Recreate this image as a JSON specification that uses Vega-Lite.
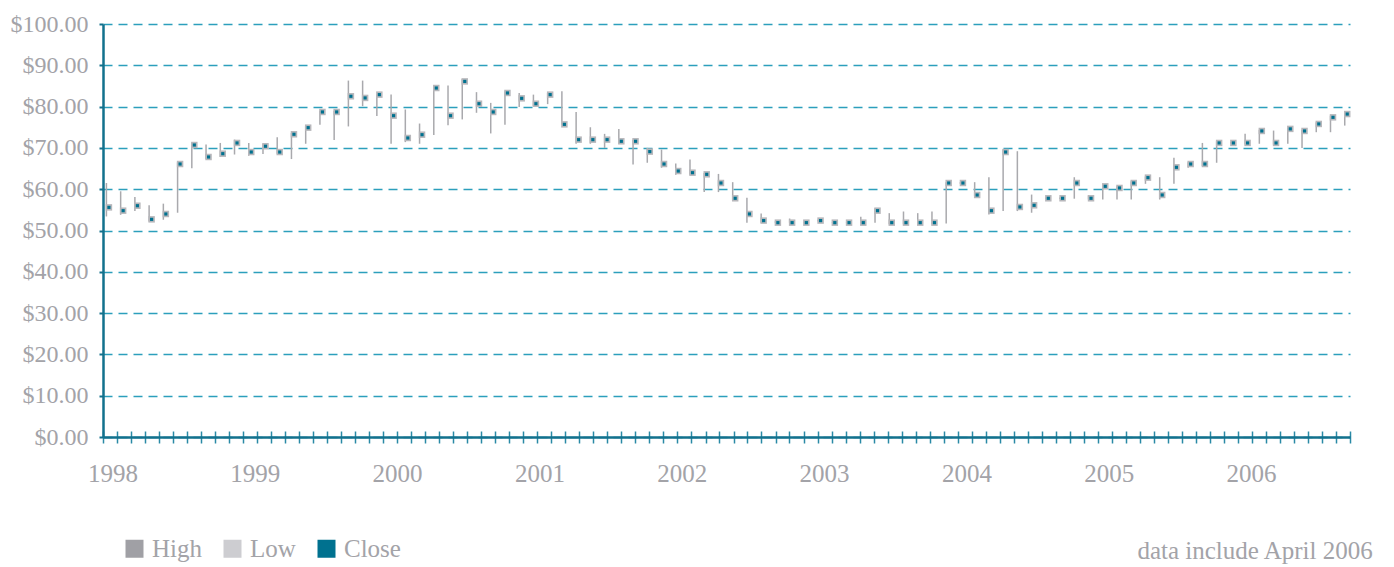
{
  "$schema": "https://vega.github.io/schema/vega-lite/v6.json",
  "width": 1247,
  "height": 413,
  "autosize": {"type": "none"},
  "padding": {"left": 103, "top": 24, "right": 44, "bottom": 130},
  "background": "white",
  "title": {
    "text": "data include April 2006",
    "orient": "bottom",
    "anchor": "end",
    "dx": 22,
    "offset": -23,
    "font": "Liberation Serif",
    "fontSize": 25,
    "fontWeight": "normal",
    "color": "#a3a3a8"
  },
  "config": {
    "view": {"stroke": null},
    "axis": {"labelFont": "Liberation Serif", "labelColor": "#a3a3a8"}
  },
  "data": {
    "values": [
      {"i": 0, "high": 61.5, "low": 53.4, "close": 55.6},
      {"i": 1, "high": 59.5, "low": 53.8, "close": 54.8},
      {"i": 2, "high": 58.1, "low": 54.7, "close": 56.0},
      {"i": 3, "high": 56.1, "low": 52.2, "close": 52.7},
      {"i": 4, "high": 56.5, "low": 52.6, "close": 54.0},
      {"i": 5, "high": 66.5, "low": 54.3, "close": 66.1},
      {"i": 6, "high": 71.2, "low": 65.1, "close": 70.7},
      {"i": 7, "high": 70.8, "low": 67.3, "close": 67.8},
      {"i": 8, "high": 71.2, "low": 67.8, "close": 68.6},
      {"i": 9, "high": 72.0, "low": 68.4, "close": 71.2},
      {"i": 10, "high": 71.2, "low": 68.1, "close": 69.0},
      {"i": 11, "high": 71.0, "low": 68.5, "close": 70.4},
      {"i": 12, "high": 72.6, "low": 68.6, "close": 69.0},
      {"i": 13, "high": 73.6, "low": 67.3, "close": 73.3},
      {"i": 14, "high": 75.4, "low": 71.0, "close": 74.9},
      {"i": 15, "high": 79.0, "low": 75.6, "close": 78.7},
      {"i": 16, "high": 79.0, "low": 71.9, "close": 78.7},
      {"i": 17, "high": 86.3, "low": 75.2, "close": 82.5},
      {"i": 18, "high": 86.3, "low": 80.1, "close": 82.1},
      {"i": 19, "high": 82.9, "low": 77.7, "close": 82.9},
      {"i": 20, "high": 82.9, "low": 71.0, "close": 77.8},
      {"i": 21, "high": 79.3, "low": 71.4, "close": 72.4},
      {"i": 22, "high": 75.9, "low": 71.0, "close": 73.2},
      {"i": 23, "high": 85.1, "low": 73.1, "close": 84.5},
      {"i": 24, "high": 85.1, "low": 75.5, "close": 77.8},
      {"i": 25, "high": 86.7, "low": 76.9, "close": 86.1},
      {"i": 26, "high": 83.5, "low": 78.5, "close": 80.7},
      {"i": 27, "high": 80.9, "low": 73.5, "close": 78.7},
      {"i": 28, "high": 83.7, "low": 75.6, "close": 83.3},
      {"i": 29, "high": 83.3, "low": 79.9, "close": 82.0},
      {"i": 30, "high": 82.9, "low": 80.1, "close": 80.7},
      {"i": 31, "high": 83.3, "low": 80.6, "close": 82.9},
      {"i": 32, "high": 83.7, "low": 75.6, "close": 75.7},
      {"i": 33, "high": 78.7, "low": 71.0, "close": 72.0},
      {"i": 34, "high": 75.0, "low": 71.0, "close": 72.0},
      {"i": 35, "high": 73.4, "low": 70.0, "close": 72.0},
      {"i": 36, "high": 74.6, "low": 71.0, "close": 71.6},
      {"i": 37, "high": 72.0, "low": 66.0, "close": 71.6},
      {"i": 38, "high": 70.0, "low": 66.4, "close": 69.1},
      {"i": 39, "high": 69.6, "low": 65.2, "close": 66.1},
      {"i": 40, "high": 66.2, "low": 63.5, "close": 64.4},
      {"i": 41, "high": 67.2, "low": 63.5, "close": 64.0},
      {"i": 42, "high": 63.9, "low": 59.3, "close": 63.6},
      {"i": 43, "high": 63.7, "low": 59.3, "close": 61.5},
      {"i": 44, "high": 61.7, "low": 57.3, "close": 57.8},
      {"i": 45, "high": 57.9, "low": 51.9, "close": 54.0},
      {"i": 46, "high": 54.1, "low": 51.9, "close": 52.4},
      {"i": 47, "high": 52.2, "low": 51.9, "close": 51.9},
      {"i": 48, "high": 52.9, "low": 51.9, "close": 51.9},
      {"i": 49, "high": 52.0, "low": 51.9, "close": 51.9},
      {"i": 50, "high": 52.6, "low": 52.2, "close": 52.4},
      {"i": 51, "high": 52.0, "low": 51.9, "close": 51.9},
      {"i": 52, "high": 52.0, "low": 51.9, "close": 51.9},
      {"i": 53, "high": 53.3, "low": 51.9, "close": 51.9},
      {"i": 54, "high": 55.4, "low": 51.9, "close": 54.8},
      {"i": 55, "high": 54.2, "low": 51.5, "close": 51.9},
      {"i": 56, "high": 54.6, "low": 51.5, "close": 51.9},
      {"i": 57, "high": 54.2, "low": 51.5, "close": 51.9},
      {"i": 58, "high": 54.6, "low": 51.5, "close": 51.9},
      {"i": 59, "high": 61.7, "low": 51.7, "close": 61.5},
      {"i": 60, "high": 61.7, "low": 61.3, "close": 61.5},
      {"i": 61, "high": 61.7, "low": 58.3, "close": 58.6},
      {"i": 62, "high": 62.9, "low": 53.9, "close": 54.8},
      {"i": 63, "high": 69.6, "low": 54.7, "close": 69.0},
      {"i": 64, "high": 69.2, "low": 54.7, "close": 55.7},
      {"i": 65, "high": 58.7, "low": 54.3, "close": 56.1},
      {"i": 66, "high": 58.0, "low": 57.6, "close": 57.8},
      {"i": 67, "high": 58.0, "low": 57.6, "close": 57.8},
      {"i": 68, "high": 62.9, "low": 57.7, "close": 61.5},
      {"i": 69, "high": 58.5, "low": 57.5, "close": 57.8},
      {"i": 70, "high": 61.1, "low": 57.5, "close": 60.7},
      {"i": 71, "high": 60.7, "low": 57.5, "close": 60.3},
      {"i": 72, "high": 61.9, "low": 57.5, "close": 61.5},
      {"i": 73, "high": 63.1, "low": 61.3, "close": 62.8},
      {"i": 74, "high": 62.9, "low": 57.5, "close": 58.6},
      {"i": 75, "high": 67.6, "low": 61.3, "close": 65.3},
      {"i": 76, "high": 66.5, "low": 65.2, "close": 66.1},
      {"i": 77, "high": 71.2, "low": 65.6, "close": 66.1},
      {"i": 78, "high": 71.6, "low": 66.4, "close": 71.2},
      {"i": 79, "high": 71.4, "low": 71.0, "close": 71.2},
      {"i": 80, "high": 73.4, "low": 70.8, "close": 71.2},
      {"i": 81, "high": 74.4, "low": 71.0, "close": 74.1},
      {"i": 82, "high": 74.2, "low": 70.8, "close": 71.2},
      {"i": 83, "high": 74.8, "low": 71.0, "close": 74.6},
      {"i": 84, "high": 74.4, "low": 70.0, "close": 74.1},
      {"i": 85, "high": 76.2, "low": 73.8, "close": 75.8},
      {"i": 86, "high": 77.8, "low": 73.8, "close": 77.4},
      {"i": 87, "high": 78.7, "low": 75.4, "close": 78.2}
    ]
  },
  "resolve": {"axis": {"x": "independent"}},
  "layer": [
    {
      "mark": {"type": "rule", "color": "#a9a9ad", "strokeWidth": 1.5},
      "encoding": {
        "x": {
          "field": "i",
          "type": "quantitative",
          "scale": {"domain": [-0.24, 87.37], "nice": false, "zero": false},
          "axis": {
            "orient": "bottom",
            "title": null,
            "values": [-0.24, 0.74, 1.73, 2.71, 3.70, 4.68, 5.67, 6.65, 7.64, 8.62, 9.60, 10.59, 11.57, 12.56, 13.54, 14.53, 15.51, 16.49, 17.48, 18.46, 19.45, 20.43, 21.42, 22.40, 23.38, 24.37, 25.35, 26.34, 27.32, 28.31, 29.29, 30.28, 31.26, 32.24, 33.23, 34.21, 35.20, 36.18, 37.17, 38.15, 39.13, 40.12, 41.10, 42.09, 43.07, 44.06, 45.04, 46.02, 47.01, 47.99, 48.98, 49.96, 50.95, 51.93, 52.92, 53.90, 54.88, 55.87, 56.85, 57.84, 58.82, 59.81, 60.79, 61.77, 62.76, 63.74, 64.73, 65.71, 66.70, 67.68, 68.67, 69.65, 70.63, 71.62, 72.60, 73.59, 74.57, 75.56, 76.54, 77.52, 78.51, 79.49, 80.48, 81.46, 82.45, 83.43, 84.42, 85.40, 86.38, 87.37],
            "labels": false,
            "domain": false,
            "grid": false,
            "ticks": true,
            "tickSize": 12,
            "offset": -6,
            "tickColor": "#2a8aa6",
            "tickWidth": 1.5
          }
        },
        "y": {
          "field": "low",
          "type": "quantitative",
          "scale": {"domain": [0, 100], "nice": false},
          "axis": {
            "title": null,
            "values": [0, 10, 20, 30, 40, 50, 60, 70, 80, 90, 100],
            "format": "$.2f",
            "labelFont": "Liberation Serif",
            "labelFontSize": 24,
            "labelColor": "#a3a3a8",
            "labelPadding": 11,
            "domainColor": "#12718d",
            "domainWidth": 2.5,
            "tickColor": "#12718d",
            "tickWidth": 2,
            "tickSize": 4,
            "grid": true,
            "gridColor": "#2c9fbc",
            "gridWidth": 1.5,
            "gridDash": [9, 6]
          }
        },
        "y2": {"field": "high"}
      }
    },
    {
      "mark": {"type": "point", "shape": "square", "filled": true, "size": 42, "opacity": 1, "color": "#b7b7bb", "xOffset": 2.5},
      "encoding": {
        "x": {"field": "i", "type": "quantitative", "axis": null},
        "y": {"field": "close", "type": "quantitative", "title": null}
      }
    },
    {
      "mark": {"type": "point", "shape": "square", "filled": true, "size": 10, "opacity": 1, "xOffset": 2.5},
      "encoding": {
        "x": {
          "field": "i",
          "type": "quantitative",
          "axis": {
            "orient": "bottom",
            "title": null,
            "values": [0, 10, 20, 30, 40, 50, 60, 70, 80],
            "labelExpr": "toString(1998 + datum.value / 10)",
            "labelFont": "Liberation Serif",
            "labelFontSize": 25,
            "labelColor": "#a3a3a8",
            "labelOffset": 6,
            "labelPadding": 24,
            "ticks": false,
            "grid": false,
            "domain": true,
            "domainColor": "#12718d",
            "domainWidth": 2.5
          }
        },
        "y": {"field": "close", "type": "quantitative", "title": null},
        "color": {
          "datum": "Close",
          "type": "nominal",
          "scale": {"domain": ["High", "Low", "Close"], "range": ["#a0a0a5", "#cdcdd1", "#00718f"]},
          "legend": {
            "title": null,
            "orient": "none",
            "legendX": 19,
            "legendY": 512,
            "direction": "horizontal",
            "symbolType": "square",
            "symbolSize": 324,
            "symbolStrokeWidth": 0,
            "symbolOpacity": 1,
            "labelFont": "Liberation Serif",
            "labelFontSize": 25,
            "labelColor": "#a3a3a8",
            "labelOffset": 5,
            "columnPadding": 18,
            "padding": 0
          }
        }
      }
    }
  ]
}
